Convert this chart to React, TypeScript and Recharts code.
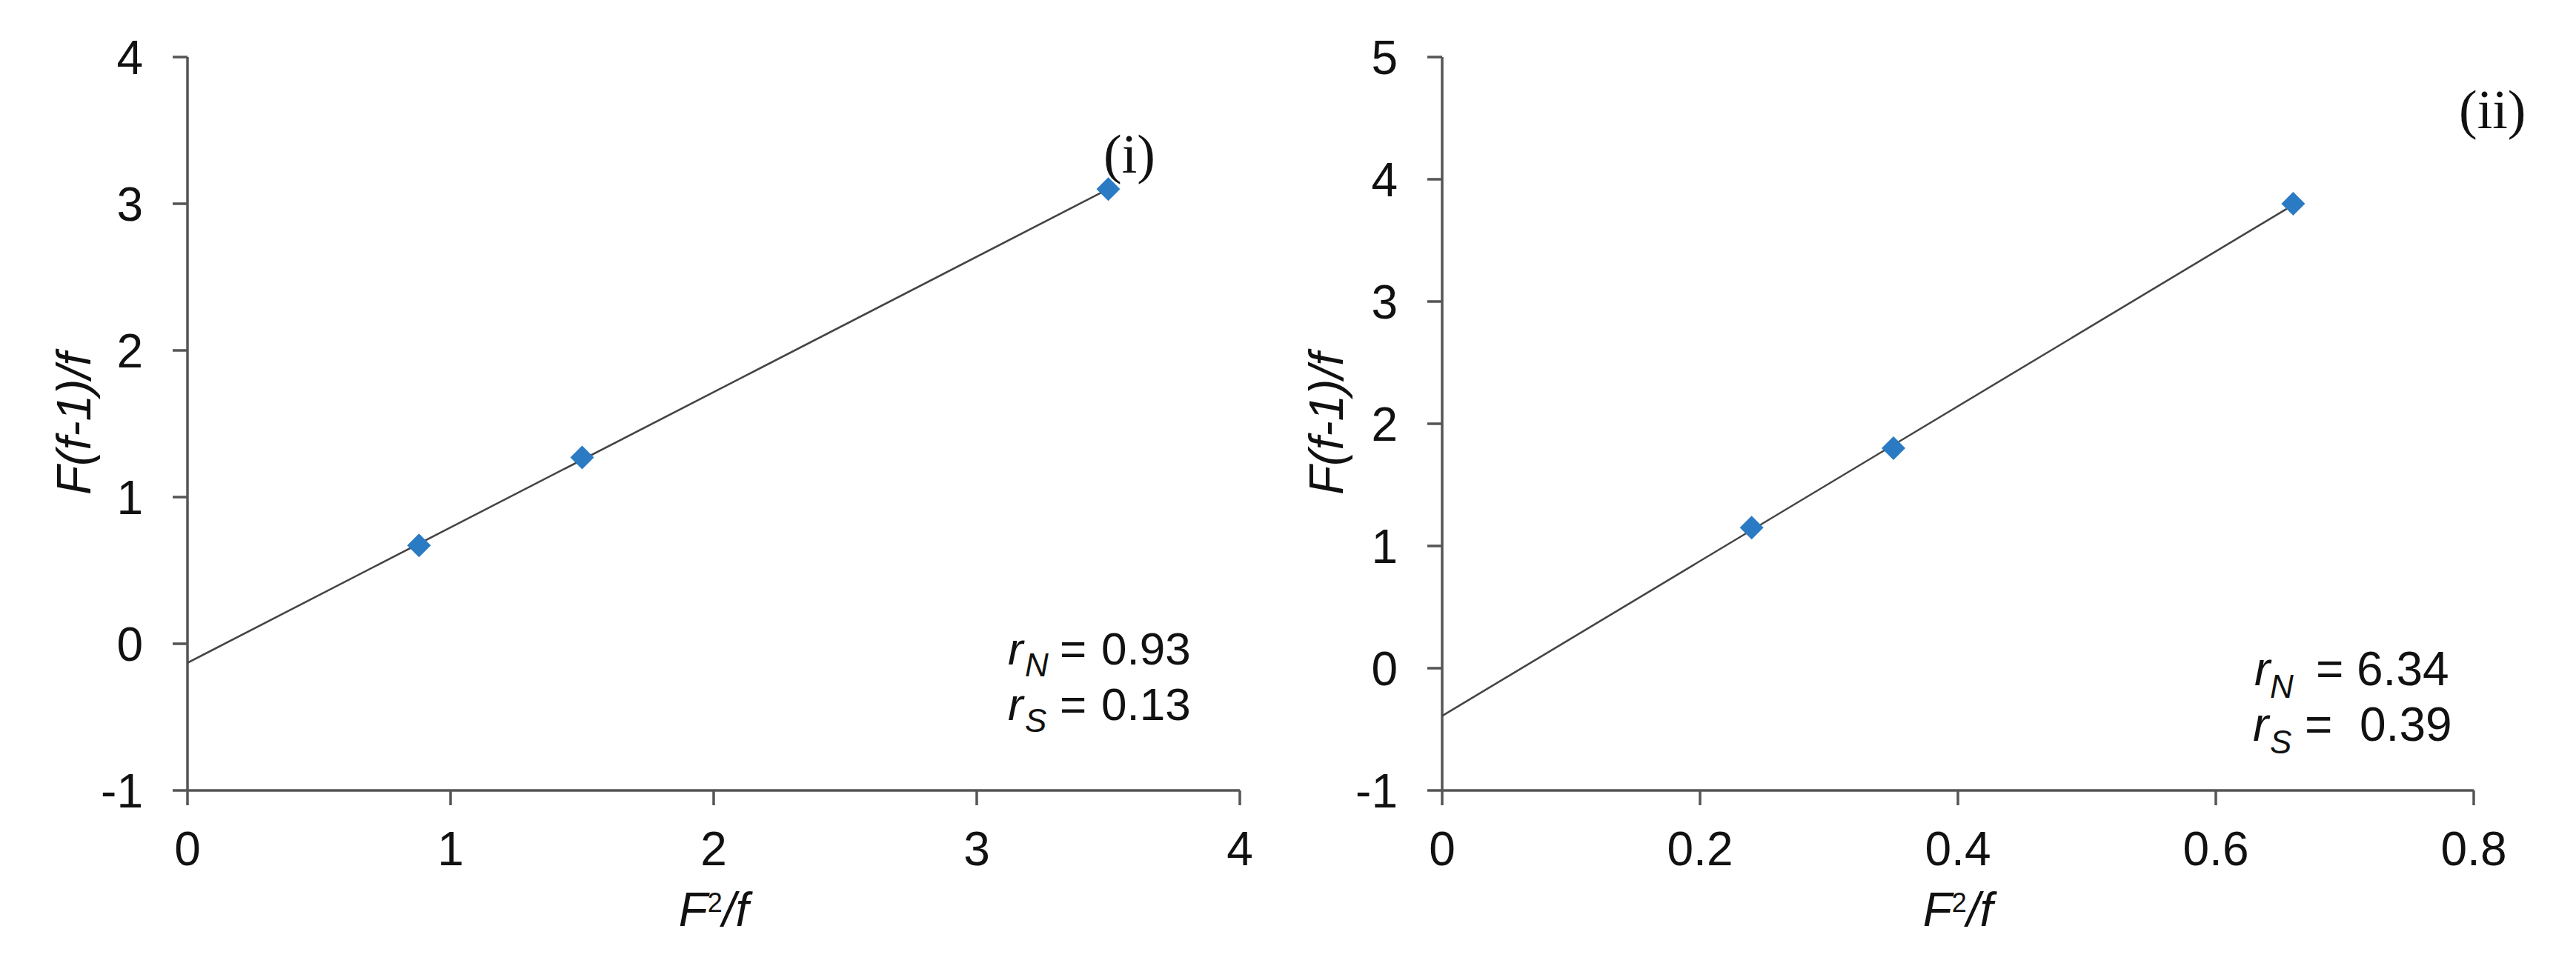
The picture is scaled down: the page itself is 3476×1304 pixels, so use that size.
import React from 'react';
import { ScatterChart, Scatter, XAxis, YAxis } from 'recharts';

// panel (i)
const pointsXi = [0.88, 1.5, 3.5];
const pointsYi = [0.67, 1.27, 3.1];
const trendXi = [0, 3.5];
const trendYi = [-0.13, 3.1];
const xTicksI = [0, 1, 2, 3, 4];
const yTicksI = [-1, 0, 1, 2, 3, 4];

// panel (ii)
const pointsXii = [0.24, 0.35, 0.66];
const pointsYii = [1.15, 1.8, 3.8];
const trendXii = [0, 0.66];
const trendYii = [-0.39, 3.79];
const xTicksII = [0, 0.2, 0.4, 0.6, 0.8];
const yTicksII = [-1, 0, 1, 2, 3, 4, 5];

const SANS = '"Liberation Sans", Arial, sans-serif';
const SERIF = '"Liberation Serif", "Times New Roman", serif';
const AXIS = '#555555';
const MARKER = '#2B7BC4';

const zip = (xs: number[], ys: number[]) => xs.map((x, i) => ({ x, y: ys[i] }));

const Diamond = (props: any) => {
  const { cx, cy } = props;
  const r = 16;
  return <path d={`M${cx},${cy - r}L${cx + r},${cy}L${cx},${cy + r}L${cx - r},${cy}Z`} fill={MARKER} />;
};

const NoShape = () => <g />;

const tickStyle = { fill: '#111', fontSize: 64, fontFamily: SANS };

function yTitle(dx: number) {
  return (props: any) => {
    const vb = props.viewBox || {};
    const cx = vb.x + dx;
    const cy = vb.y + vb.height / 2;
    return (
      <text
        x={cx}
        y={cy}
        transform={`rotate(-90, ${cx}, ${cy})`}
        textAnchor="middle"
        dominantBaseline="central"
        fontFamily={SANS}
        fontSize={64}
        fontStyle="italic"
        fill="#111"
      >
        F(f-1)/f
      </text>
    );
  };
}

const xTitle = (props: any) => {
  const vb = props.viewBox || {};
  const cx = vb.x + vb.width / 2;
  const y = vb.y + 183;
  return (
    <text x={cx} y={y} textAnchor="middle" fontFamily={SANS} fontSize={64} fill="#111">
      <tspan fontStyle="italic">F</tspan>
      <tspan fontSize={36} dy={-19}>2</tspan>
      <tspan fontStyle="italic" dy={19}>/f</tspan>
    </text>
  );
};

interface PanelProps {
  left: number;
  margin: { top: number; right: number; bottom: number; left: number };
  yWidth: number;
  titleDx: number;
  points: { x: number; y: number }[];
  trend: { x: number; y: number }[];
  xTicks: number[];
  yTicks: number[];
}

function Panel({ left, margin, yWidth, titleDx, points, trend, xTicks, yTicks }: PanelProps) {
  return (
    <div style={{ position: 'absolute', left, top: 0 }}>
      <ScatterChart width={1738} height={1304} margin={margin}>
        <XAxis
          type="number"
          dataKey="x"
          domain={[xTicks[0], xTicks[xTicks.length - 1]]}
          ticks={xTicks}
          interval={0}
          height={200}
          tickSize={20}
          tickMargin={36}
          tick={tickStyle}
          axisLine={{ stroke: AXIS, strokeWidth: 3.5 }}
          tickLine={{ stroke: AXIS, strokeWidth: 3.5 }}
          label={{ content: xTitle }}
        />
        <YAxis
          type="number"
          dataKey="y"
          domain={[yTicks[0], yTicks[yTicks.length - 1]]}
          ticks={yTicks}
          interval={0}
          width={yWidth}
          tickSize={20}
          tickMargin={40}
          tick={tickStyle}
          axisLine={{ stroke: AXIS, strokeWidth: 3.5 }}
          tickLine={{ stroke: AXIS, strokeWidth: 3.5 }}
          label={{ content: yTitle(titleDx) }}
        />
        <Scatter data={trend} line={{ stroke: '#444', strokeWidth: 2.5 }} shape={NoShape} isAnimationActive={false} />
        <Scatter data={points} shape={Diamond} isAnimationActive={false} />
      </ScatterChart>
    </div>
  );
}

export default function App() {
  return (
    <div style={{ position: 'absolute', left: 0, top: 0, width: 3476, height: 1304, background: '#fff' }}>
      <Panel
        left={0}
        margin={{ top: 77, right: 65, bottom: 37, left: 103 }}
        yWidth={150}
        titleDx={-3}
        points={zip(pointsXi, pointsYi)}
        trend={zip(trendXi, trendYi)}
        xTicks={xTicksI}
        yTicks={yTicksI}
      />
      <Panel
        left={1738}
        margin={{ top: 77, right: 138, bottom: 37, left: 78 }}
        yWidth={130}
        titleDx={-26}
        points={zip(pointsXii, pointsYii)}
        trend={zip(trendXii, trendYii)}
        xTicks={xTicksII}
        yTicks={yTicksII}
      />
      <svg
        width={3476}
        height={1304}
        style={{ position: 'absolute', left: 0, top: 0, pointerEvents: 'none' }}
      >
        <text x={1489} y={233} fontFamily={SERIF} fontSize={74} fill="#111">(i)</text>
        <text x={3318} y={173} fontFamily={SERIF} fontSize={74} fill="#111">(ii)</text>
        <g fontFamily={SANS} fill="#111">
          <text y={897} fontSize={62}>
            <tspan x={1360} fontStyle="italic">r</tspan>
            <tspan x={1383} dy={16} fontSize={44} fontStyle="italic">N</tspan>
            <tspan x={1430} dy={-16}>=</tspan>
            <tspan x={1486}>0.93</tspan>
          </text>
          <text y={972} fontSize={62}>
            <tspan x={1360} fontStyle="italic">r</tspan>
            <tspan x={1383} dy={16} fontSize={44} fontStyle="italic">S</tspan>
            <tspan x={1430} dy={-16}>=</tspan>
            <tspan x={1486}>0.13</tspan>
          </text>
          <text y={925} fontSize={64}>
            <tspan x={3042} fontStyle="italic">r</tspan>
            <tspan x={3063} dy={17} fontSize={44} fontStyle="italic">N</tspan>
            <tspan x={3125} dy={-17}>=</tspan>
            <tspan x={3180}>6.34</tspan>
          </text>
          <text y={1000} fontSize={64}>
            <tspan x={3040} fontStyle="italic">r</tspan>
            <tspan x={3063} dy={17} fontSize={44} fontStyle="italic">S</tspan>
            <tspan x={3110} dy={-17}>=</tspan>
            <tspan x={3184}>0.39</tspan>
          </text>
        </g>
      </svg>
    </div>
  );
}
